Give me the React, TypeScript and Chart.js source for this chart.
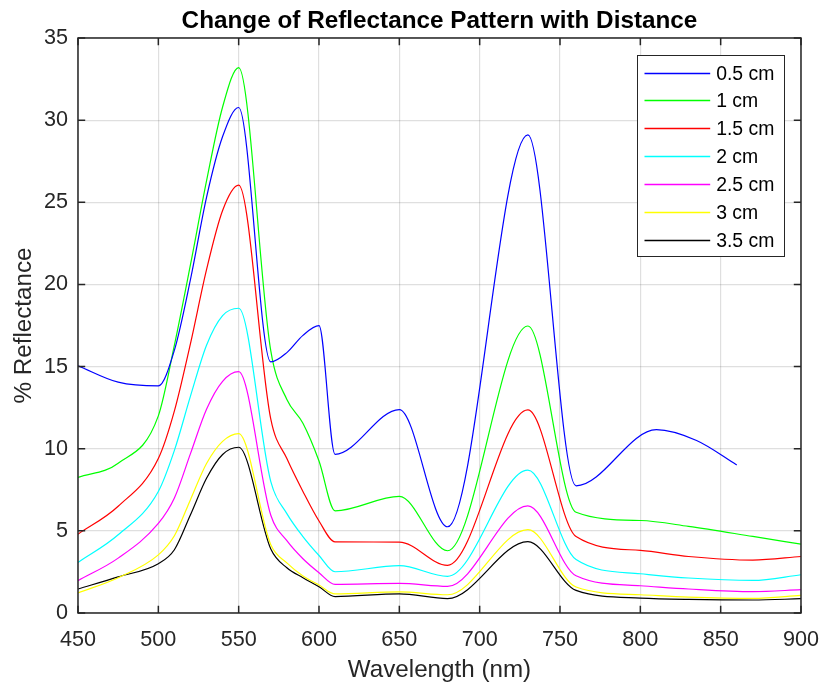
import React, { useEffect, useRef } from "react";
import { Chart, registerables } from "chart.js";

Chart.register(...registerables);

// ---- Data ----
const wavelengths = [450, 475, 500, 510, 520, 530, 540, 550, 570, 580, 590, 600, 610, 650, 680, 730, 760, 800, 830, 870, 900];
const blueWavelengths = [450, 475, 500, 510, 520, 530, 540, 550, 570, 580, 590, 600, 610, 650, 680, 730, 760, 810, 835, 860];

const seriesLabels = ["0.5 cm", "1 cm", "1.5 cm", "2 cm", "2.5 cm", "3 cm", "3.5 cm"];
const seriesColors = ["#0000ff", "#00ff00", "#ff0000", "#00ffff", "#ff00ff", "#ffff00", "#000000"];

const reflect05 = [15.05, 14.05, 13.82, 16.0, 20.3, 25.3, 29.0, 30.77, 15.28, 15.85, 16.9, 17.49, 9.66, 12.38, 5.25, 29.1, 7.74, 11.16, 10.5, 9.01];
const reflect10 = [8.25, 9.12, 12.0, 16.3, 21.2, 26.3, 30.8, 33.2, 15.95, 13.0, 11.55, 9.25, 6.22, 7.1, 3.79, 17.47, 6.13, 5.63, 5.27, 4.66, 4.19];
const reflect15 = [4.8, 6.5, 9.4, 12.3, 16.4, 20.9, 24.5, 26.04, 11.8, 9.4, 7.4, 5.6, 4.33, 4.32, 2.9, 12.36, 4.65, 3.81, 3.44, 3.22, 3.44];
const reflect20 = [3.08, 4.76, 7.4, 9.9, 13.2, 16.3, 18.1, 18.55, 8.0, 6.05, 4.65, 3.5, 2.51, 2.88, 2.23, 8.7, 3.25, 2.39, 2.13, 1.98, 2.33];
const reflect25 = [1.97, 3.34, 5.45, 7.0, 9.7, 12.4, 14.1, 14.69, 5.95, 4.4, 3.3, 2.45, 1.74, 1.8, 1.62, 6.52, 2.27, 1.66, 1.46, 1.3, 1.42];
const reflect30 = [1.22, 2.15, 3.54, 4.7, 6.9, 9.1, 10.45, 10.92, 4.15, 3.05, 2.25, 1.7, 1.16, 1.29, 1.11, 5.07, 1.58, 1.11, 0.97, 0.89, 1.07];
const reflect35 = [1.46, 2.2, 3.0, 3.85, 5.98, 8.2, 9.65, 10.09, 3.9, 2.75, 2.15, 1.6, 1.0, 1.17, 0.88, 4.34, 1.38, 0.91, 0.83, 0.79, 0.87];

const seriesValues = [reflect05, reflect10, reflect15, reflect20, reflect25, reflect30, reflect35];
const seriesX = [blueWavelengths, wavelengths, wavelengths, wavelengths, wavelengths, wavelengths, wavelengths];

const xTickValues = [450, 500, 550, 600, 650, 700, 750, 800, 850, 900];
const yTickValues = [0, 5, 10, 15, 20, 25, 30, 35];

const titleText = "Change of Reflectance Pattern with Distance";
const xLabelText = "Wavelength (nm)";
const yLabelText = "% Reflectance";

const FONT = "'Liberation Sans', Arial, Helvetica, sans-serif";
const AXIS_COLOR = "#262626";

const matlabPlugin = {
  id: "matlabDecor",
  afterDatasetsDraw(chart: any) {
    const { ctx, chartArea: a, scales } = chart;
    const xs = scales.x;
    const ys = scales.y;
    ctx.save();
    // Frame
    ctx.strokeStyle = AXIS_COLOR;
    ctx.lineWidth = 1.5;
    ctx.strokeRect(a.left, a.top, a.right - a.left, a.bottom - a.top);
    // Inward ticks on all sides
    const tl = 7.2;
    ctx.beginPath();
    for (const v of xTickValues) {
      const px = xs.getPixelForValue(v);
      ctx.moveTo(px, a.bottom);
      ctx.lineTo(px, a.bottom - tl);
      ctx.moveTo(px, a.top);
      ctx.lineTo(px, a.top + tl);
    }
    for (const v of yTickValues) {
      const py = ys.getPixelForValue(v);
      ctx.moveTo(a.left, py);
      ctx.lineTo(a.left + tl, py);
      ctx.moveTo(a.right, py);
      ctx.lineTo(a.right - tl, py);
    }
    ctx.stroke();

    // Legend
    const rowH = 27.9;
    const n = chart.data.datasets.length;
    const boxW = 147;
    const boxH = 17 + (n - 1) * rowH + 17;
    const bx = Math.round(a.right - 17 - boxW) + 0.5;
    const by = Math.round(a.top + 17) + 0.5;
    ctx.fillStyle = "#ffffff";
    ctx.fillRect(bx, by, boxW, boxH);
    ctx.lineWidth = 1;
    ctx.strokeStyle = AXIS_COLOR;
    ctx.strokeRect(bx, by, boxW, Math.round(boxH));
    ctx.font = `19.4px ${FONT}`;
    ctx.textBaseline = "middle";
    ctx.textAlign = "left";
    chart.data.datasets.forEach((ds: any, i: number) => {
      const ry = Math.round(by + 17 + i * rowH) + 0.5;
      ctx.beginPath();
      ctx.strokeStyle = ds.borderColor;
      ctx.lineWidth = 1.3;
      ctx.moveTo(bx + 7, ry);
      ctx.lineTo(bx + 72.7, ry);
      ctx.stroke();
      ctx.fillStyle = "#000000";
      ctx.fillText(ds.label, bx + 78.7, ry + 1);
    });
    ctx.restore();
  },
  afterDraw(chart: any) {
    const { ctx, chartArea: a } = chart;
    const cx = (a.left + a.right) / 2;
    const cy = (a.top + a.bottom) / 2;
    ctx.save();
    ctx.fillStyle = "#000000";
    ctx.textAlign = "center";
    ctx.textBaseline = "alphabetic";
    ctx.font = `bold 24.3px ${FONT}`;
    ctx.fillText(titleText, cx, 27.5);
    ctx.fillStyle = AXIS_COLOR;
    ctx.font = `24.2px ${FONT}`;
    ctx.fillText(xLabelText, cx, 677);
    ctx.translate(30.5, cy);
    ctx.rotate(-Math.PI / 2);
    ctx.fillText(yLabelText, 0, 0);
    ctx.restore();
  },
};

export default function App() {
  const canvasRef = useRef<HTMLCanvasElement | null>(null);

  useEffect(() => {
    document.body.style.margin = "0";
    const canvas = canvasRef.current;
    if (!canvas) return;
    const datasets = seriesLabels.map((label, i) => ({
      label,
      data: seriesX[i].map((w, j) => ({ x: w, y: seriesValues[i][j] })),
      borderColor: seriesColors[i],
      backgroundColor: seriesColors[i],
      borderWidth: 1.2,
      pointRadius: 0,
      fill: false,
      cubicInterpolationMode: "monotone" as const,
    }));
    const chart = new Chart(canvas, {
      type: "line",
      data: { datasets },
      options: {
        responsive: false,
        animation: false,
        devicePixelRatio: 1,
        layout: { padding: { top: 38, right: 21, left: 0, bottom: 0 } },
        plugins: {
          legend: { display: false },
          title: { display: false },
          tooltip: { enabled: false },
        },
        scales: {
          x: {
            type: "linear",
            min: 450,
            max: 900,
            afterBuildTicks: (scale: any) => {
              scale.ticks = xTickValues.map((v) => ({ value: v }));
            },
            afterFit: (scale: any) => {
              scale.height = 74;
              scale.paddingRight = 0;
              scale.paddingLeft = 0;
            },
            grid: { color: "rgba(38,38,38,0.15)", lineWidth: 1.2, drawTicks: false },
            border: { display: false },
            ticks: {
              padding: 14,
              color: AXIS_COLOR,
              font: { family: FONT, size: 21.6 },
              maxRotation: 0,
            },
          },
          y: {
            type: "linear",
            min: 0,
            max: 35,
            afterBuildTicks: (scale: any) => {
              scale.ticks = yTickValues.map((v) => ({ value: v }));
            },
            afterFit: (scale: any) => {
              scale.width = 78;
              scale.paddingTop = 0;
              scale.paddingBottom = 0;
            },
            grid: { color: "rgba(38,38,38,0.15)", lineWidth: 1.2, drawTicks: false },
            border: { display: false },
            ticks: {
              padding: 10,
              color: AXIS_COLOR,
              font: { family: FONT, size: 21.6 },
            },
          },
        },
      },
      plugins: [matlabPlugin],
    });
    return () => chart.destroy();
  }, []);

  return (
    <div style={{ width: 822, height: 687 }}>
      <canvas ref={canvasRef} width={822} height={687} style={{ display: "block", width: 822, height: 687 }} />
    </div>
  );
}
